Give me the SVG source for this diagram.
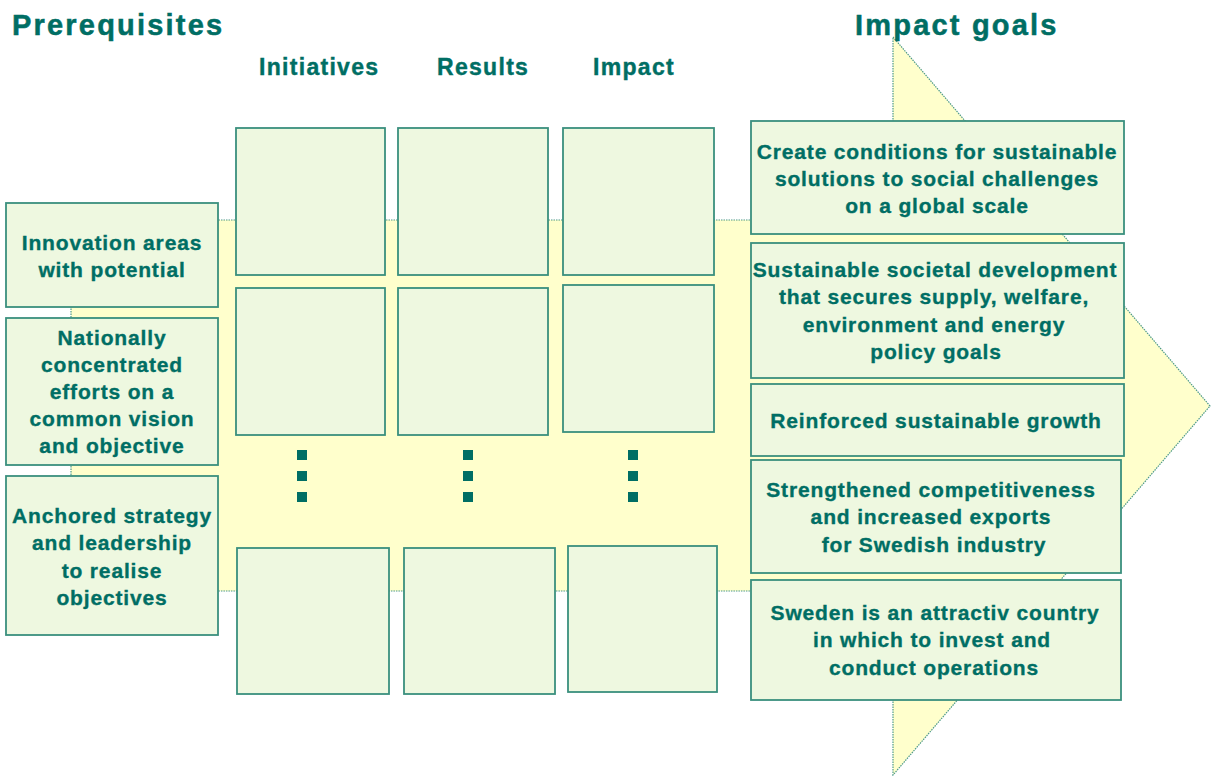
<svg xmlns="http://www.w3.org/2000/svg" width="1211" height="776" viewBox="0 0 1211 776">
<style>
.bx{fill:#EEF8E0;stroke:#3A8F7E;stroke-width:1.8}
.t{font-family:"Liberation Sans",Arial,sans-serif;font-weight:bold;fill:#006E64;stroke:#006E64;stroke-width:0.35;text-anchor:middle;font-size:21px;letter-spacing:0.85px}
.h1{font-family:"Liberation Sans",Arial,sans-serif;font-weight:bold;fill:#006E64;stroke:#006E64;stroke-width:0.5;font-size:29px;letter-spacing:2.2px}
.h2{font-family:"Liberation Sans",Arial,sans-serif;font-weight:bold;fill:#006E64;stroke:#006E64;stroke-width:0.4;font-size:23px;letter-spacing:1.3px}
.dot{fill:#006E64}
</style>
<rect width="1211" height="776" fill="#FFFFFF"/>
<g id="arrow">
<polygon points="71,220 893,220 893,37 1210,406 893,775 893,591 71,591" fill="#FFFFCC" stroke="#4E9A88" stroke-width="1.2" stroke-dasharray="1.5,1"/>
</g>
<g id="titles">
<text class="h1" x="12" y="35">Prerequisites</text>
<text class="h1" x="855" y="35">Impact goals</text>
<text class="h2" x="259" y="75">Initiatives</text>
<text class="h2" x="437" y="75">Results</text>
<text class="h2" x="593" y="75">Impact</text>
</g>
<g id="connectors"></g>
<g id="prereq1"><rect class="bx" x="6" y="203" width="212" height="104"/>
<text class="t" x="112" y="250">Innovation areas</text><text class="t" x="112" y="277">with potential</text></g>
<g id="prereq2"><rect class="bx" x="6" y="318" width="212" height="147"/>
<text class="t" x="112" y="345">Nationally</text><text class="t" x="112" y="372">concentrated</text><text class="t" x="112" y="399">efforts on a</text><text class="t" x="112" y="426">common vision</text><text class="t" x="112" y="453">and objective</text></g>
<g id="prereq3"><rect class="bx" x="6" y="476" width="212" height="159"/>
<text class="t" x="112" y="523">Anchored strategy</text><text class="t" x="112" y="550">and leadership</text><text class="t" x="112" y="578">to realise</text><text class="t" x="112" y="605">objectives</text></g>
<g id="init1"><rect class="bx" x="236" y="128" width="149" height="147"/></g>
<g id="init2"><rect class="bx" x="236" y="288" width="149" height="147"/></g>
<g id="init3"><rect class="bx" x="237" y="548" width="152" height="146"/></g>
<g id="res1"><rect class="bx" x="398" y="128" width="150" height="147"/></g>
<g id="res2"><rect class="bx" x="398" y="288" width="150" height="147"/></g>
<g id="res3"><rect class="bx" x="404" y="548" width="151" height="146"/></g>
<g id="imp1"><rect class="bx" x="563" y="128" width="151" height="147"/></g>
<g id="imp2"><rect class="bx" x="563" y="285" width="151" height="147"/></g>
<g id="imp3"><rect class="bx" x="568" y="546" width="149" height="146"/></g>
<g id="dots">
<rect class="dot" x="297" y="450" width="10" height="10"/><rect class="dot" x="297" y="471" width="10" height="10"/><rect class="dot" x="297" y="492" width="10" height="10"/>
<rect class="dot" x="463" y="450" width="10" height="10"/><rect class="dot" x="463" y="471" width="10" height="10"/><rect class="dot" x="463" y="492" width="10" height="10"/>
<rect class="dot" x="628" y="450" width="10" height="10"/><rect class="dot" x="628" y="471" width="10" height="10"/><rect class="dot" x="628" y="492" width="10" height="10"/>
</g>
<g id="goal1"><rect class="bx" x="751" y="121" width="373" height="113"/>
<text class="t" x="937" y="159">Create conditions for sustainable</text><text class="t" x="937" y="186">solutions to social challenges</text><text class="t" x="937" y="213">on a global scale</text></g>
<g id="goal2"><rect class="bx" x="751" y="243" width="373" height="135"/>
<text class="t" x="935" y="277">Sustainable societal development</text><text class="t" x="934" y="304">that secures supply, welfare,</text><text class="t" x="934" y="332">environment and energy</text><text class="t" x="936" y="359">policy goals</text></g>
<g id="goal3"><rect class="bx" x="751" y="384" width="373" height="72"/>
<text class="t" x="936" y="428">Reinforced sustainable growth</text></g>
<g id="goal4"><rect class="bx" x="751" y="460" width="370" height="113"/>
<text class="t" x="931" y="497">Strengthened competitiveness</text><text class="t" x="931" y="524">and increased exports</text><text class="t" x="934" y="552">for Swedish industry</text></g>
<g id="goal5"><rect class="bx" x="751" y="580" width="370" height="120"/>
<text class="t" x="935" y="620">Sweden is an attractiv country</text><text class="t" x="932" y="647">in which to invest and</text><text class="t" x="934" y="675">conduct operations</text></g>
</svg>
